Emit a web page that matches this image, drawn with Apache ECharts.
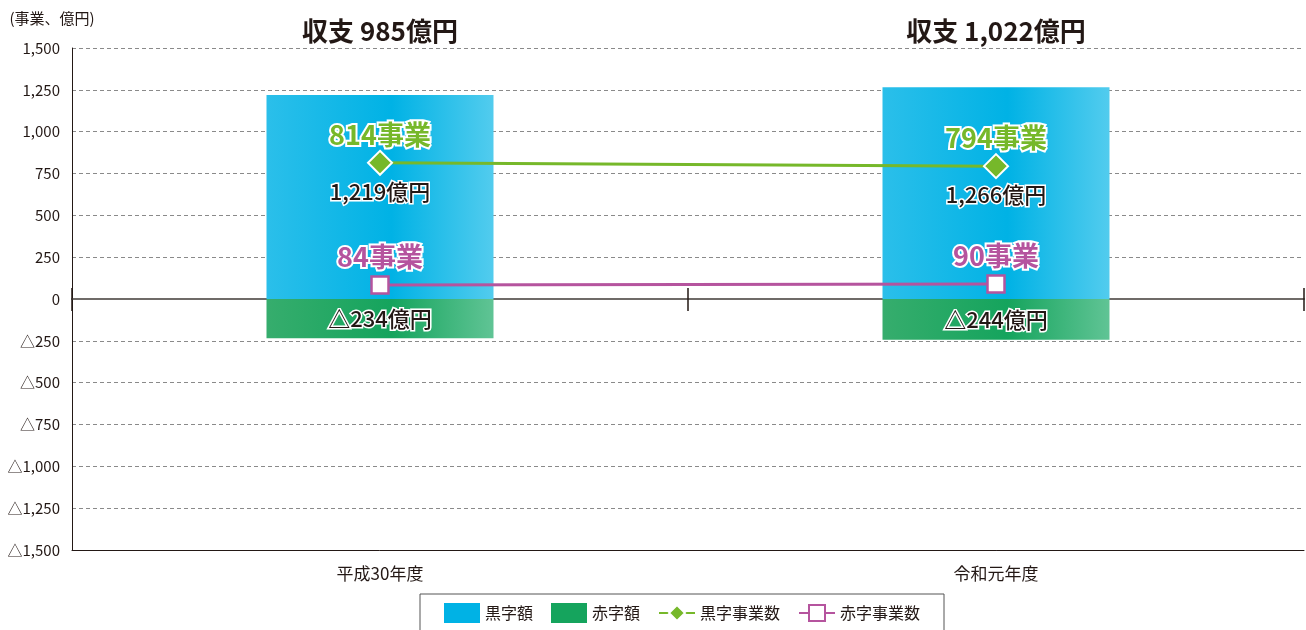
<!DOCTYPE html>
<html>
<head>
<meta charset="utf-8">
<script src="https://cdn.jsdelivr.net/npm/echarts@6/dist/echarts.min.js"></script>
<style>
html, body { margin: 0; padding: 0; background: #fff; }
#chart { width: 1306px; height: 630px; }
</style>
</head>
<body>
<div id="chart"></div>
<script>
// データ
var years = ['平成30年度', '令和元年度'];
var surplusAmount = [1219, 1266];   // 黒字額（億円）
var deficitAmount = [-234, -244];   // 赤字額（億円）
var surplusCount = [814, 794];      // 黒字事業数
var deficitCount = [84, 90];        // 赤字事業数
var balance = [985, 1022];          // 収支（億円）

var FONT = '"Noto Sans CJK JP", sans-serif';

function num(v) {
    return Math.abs(v).toLocaleString('en-US');
}

function drawChart() {
    var myChart = echarts.init(document.getElementById('chart'));

    var blueGrad = new echarts.graphic.LinearGradient(0, 0, 1, 0, [
        { offset: 0, color: '#2bbfea' },
        { offset: 0.55, color: '#00b2e5' },
        { offset: 1, color: '#52ccee' }
    ]);
    var greenGrad = new echarts.graphic.LinearGradient(0, 0, 1, 0, [
        { offset: 0, color: '#36ad6d' },
        { offset: 0.55, color: '#15a45d' },
        { offset: 1, color: '#60c495' }
    ]);

    var option = {
        animation: false,
        textStyle: { fontFamily: FONT },
        grid: { left: 72, right: 2, top: 48, bottom: 80 },
        legend: {
            data: [
                { name: '黒字額', icon: 'rect', itemStyle: { color: '#00b2e5' } },
                { name: '赤字額', icon: 'rect', itemStyle: { color: '#15a45d' } },
                '黒字事業数',
                '赤字事業数'
            ],
            left: 420,
            top: 594,
            padding: [9, 24, 14, 24],
            itemWidth: 36,
            itemHeight: 20,
            itemGap: 18,
            borderColor: '#555',
            borderWidth: 1,
            textStyle: { fontFamily: FONT, fontSize: 16, color: '#231815' }
        },
        xAxis: [
            {   // 下端の軸（カテゴリ名）
                type: 'category',
                data: years,
                position: 'bottom',
                axisLine: { onZero: false, lineStyle: { color: '#231815', width: 1 } },
                axisTick: { show: false },
                axisLabel: { margin: 15, fontSize: 17, color: '#231815', fontFamily: FONT }
            },
            {   // 上端（収支）
                type: 'category',
                data: years,
                position: 'top',
                axisLine: { show: false, onZero: false },
                axisTick: { show: false },
                axisLabel: {
                    margin: 4,
                    fontSize: 26,
                    fontWeight: 'bold',
                    color: '#231815',
                    fontFamily: FONT,
                    formatter: function (v, i) { return '収支 ' + num(balance[i]) + '億円'; }
                }
            },
            {   // ゼロ線（下向き目盛）
                type: 'category',
                data: years,
                position: 'bottom',
                axisLine: { onZero: true, onZeroAxisIndex: 0, lineStyle: { color: '#6f6b68', width: 2 } },
                axisTick: { show: true, length: 12, lineStyle: { color: '#231815', width: 1.5 } },
                axisLabel: { show: false }
            },
            {   // ゼロ線（上向き目盛）
                type: 'category',
                data: years,
                position: 'top',
                axisLine: { show: false, onZero: true, onZeroAxisIndex: 1 },
                axisTick: { show: true, length: 11, lineStyle: { color: '#231815', width: 1.5 } },
                axisLabel: { show: false }
            }
        ],
        yAxis: [
            {
                type: 'value',
                min: -1500,
                max: 1500,
                interval: 250,
                name: '(事業、億円)',
                nameLocation: 'end',
                nameGap: 22,
                nameTextStyle: { fontFamily: FONT, fontSize: 15, color: '#231815', align: 'center', padding: [0, 40, 0, 0] },
                axisLine: { show: true, lineStyle: { color: '#231815', width: 1 } },
                axisTick: { show: false },
                axisLabel: {
                    margin: 12,
                    fontSize: 15,
                    color: '#231815',
                    fontFamily: FONT,
                    formatter: function (v) { return v < 0 ? '△' + num(v) : num(v); }
                },
                splitLine: { show: true, lineStyle: { color: '#8a8a8a', type: [4, 3], width: 1 } }
            },
            {   // 上向き目盛用の補助軸
                type: 'value',
                min: -1500,
                max: 1500,
                interval: 250,
                show: false
            }
        ],
        series: [
            {
                name: '黒字額',
                type: 'bar',
                data: surplusAmount,
                barWidth: 227,
                barGap: '-100%',
                itemStyle: { color: blueGrad },
                z: 2
            },
            {
                name: '赤字額',
                type: 'bar',
                data: deficitAmount,
                barWidth: 227,
                barGap: '-100%',
                itemStyle: { color: greenGrad },
                label: {
                    show: true,
                    position: 'inside',
                    fontSize: 22,
                    fontWeight: 500,
                    color: '#231815',
                    textBorderColor: '#fff',
                    textBorderWidth: 3,
                    fontFamily: FONT,
                    formatter: function (p) { return '△' + num(p.value) + '億円'; }
                },
                z: 2
            },
            {
                name: '黒字事業数',
                type: 'line',
                data: surplusCount,
                symbol: 'diamond',
                symbolSize: 24,
                lineStyle: { color: '#76b82a', width: 3 },
                itemStyle: { color: '#76b82a', borderColor: '#fff', borderWidth: 2 },
                label: {
                    show: true,
                    position: 'top',
                    distance: 2,
                    fontSize: 27,
                    fontWeight: 'bold',
                    color: '#76b82a',
                    textBorderColor: '#fff',
                    textBorderWidth: 4,
                    fontFamily: FONT,
                    formatter: function (p) { return p.value + '事業'; }
                },
                z: 5
            },
            {   // 黒字額ラベル（事業数マーカーの下）
                name: '黒字額ラベル',
                type: 'line',
                data: surplusCount,
                symbol: 'diamond',
                symbolSize: 24,
                silent: true,
                lineStyle: { opacity: 0 },
                itemStyle: { color: 'rgba(0,0,0,0)', borderWidth: 0 },
                label: {
                    show: true,
                    position: 'bottom',
                    distance: 6,
                    fontSize: 22,
                    fontWeight: 500,
                    color: '#231815',
                    textBorderColor: '#fff',
                    textBorderWidth: 3,
                    fontFamily: FONT,
                    formatter: function (p) { return num(surplusAmount[p.dataIndex]) + '億円'; }
                },
                z: 5
            },
            {
                name: '赤字事業数',
                type: 'line',
                data: deficitCount,
                symbol: 'rect',
                symbolSize: 17,
                lineStyle: { color: '#b5549e', width: 3 },
                itemStyle: { color: '#fff', borderColor: '#b5549e', borderWidth: 2.5 },
                label: {
                    show: true,
                    position: 'top',
                    distance: 5,
                    fontSize: 27,
                    fontWeight: 'bold',
                    color: '#b5549e',
                    textBorderColor: '#fff',
                    textBorderWidth: 4,
                    fontFamily: FONT,
                    formatter: function (p) { return p.value + '事業'; }
                },
                z: 5
            }
        ]
    };
    myChart.setOption(option, true);
}

drawChart();
</script>
</body>
</html>
